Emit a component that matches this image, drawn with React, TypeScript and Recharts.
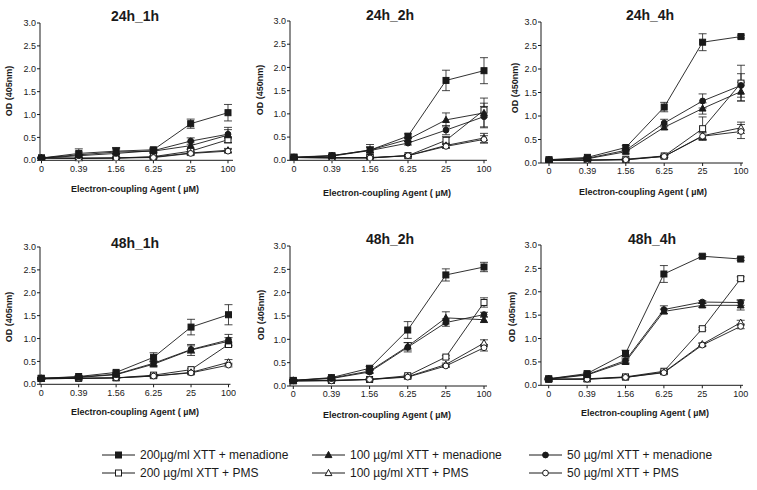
import React from "react";
import { LineChart, Line, XAxis, YAxis, ErrorBar } from "recharts";

const concentrations = ["0", "0.39", "1.56", "6.25", "25", "100"];
const yTicks = [0, 0.5, 1, 1.5, 2, 2.5, 3];

// 24h_1h
const h24_1_m200 = [0.05, 0.15, 0.2, 0.23, 0.8, 1.04];
const h24_1_m100 = [0.05, 0.12, 0.18, 0.2, 0.32, 0.55];
const h24_1_m50 = [0.05, 0.1, 0.15, 0.21, 0.42, 0.57];
const h24_1_p200 = [0.05, 0.05, 0.05, 0.08, 0.2, 0.45];
const h24_1_p100 = [0.05, 0.04, 0.05, 0.07, 0.16, 0.22];
const h24_1_p50 = [0.05, 0.04, 0.05, 0.06, 0.15, 0.2];
const h24_1_e_m200 = [0.02, 0.03, 0.05, 0.04, 0.1, 0.18];
const h24_1_e_m100 = [0.02, 0.13, 0.1, 0.04, 0.08, 0.17];
const h24_1_e_m50 = [0.02, 0.03, 0.12, 0.04, 0.07, 0.1];
const h24_1_e_p200 = [0.01, 0.01, 0.01, 0.02, 0.04, 0.06];
const h24_1_e_p100 = [0.01, 0.01, 0.01, 0.02, 0.03, 0.04];
const h24_1_e_p50 = [0.01, 0.01, 0.01, 0.02, 0.03, 0.04];

// 24h_2h
const h24_2_m200 = [0.07, 0.1, 0.22, 0.52, 1.72, 1.93];
const h24_2_m100 = [0.06, 0.1, 0.22, 0.45, 0.87, 1.02];
const h24_2_m50 = [0.06, 0.09, 0.21, 0.37, 0.65, 0.94];
const h24_2_p200 = [0.06, 0.06, 0.06, 0.1, 0.43, 1.08];
const h24_2_p100 = [0.06, 0.05, 0.05, 0.1, 0.32, 0.48];
const h24_2_p50 = [0.06, 0.05, 0.05, 0.1, 0.3, 0.45];
const h24_2_e_m200 = [0.02, 0.03, 0.06, 0.05, 0.22, 0.28];
const h24_2_e_m100 = [0.02, 0.03, 0.12, 0.05, 0.15, 0.32];
const h24_2_e_m50 = [0.02, 0.03, 0.08, 0.04, 0.1, 0.22];
const h24_2_e_p200 = [0.01, 0.02, 0.02, 0.02, 0.08, 0.15];
const h24_2_e_p100 = [0.01, 0.01, 0.01, 0.02, 0.05, 0.1];
const h24_2_e_p50 = [0.01, 0.01, 0.01, 0.02, 0.04, 0.08];

// 24h_4h
const h24_4_m200 = [0.07, 0.12, 0.33, 1.19, 2.57, 2.69];
const h24_4_m100 = [0.06, 0.09, 0.24, 0.76, 1.16, 1.52];
const h24_4_m50 = [0.06, 0.1, 0.27, 0.85, 1.32, 1.65];
const h24_4_p200 = [0.06, 0.06, 0.08, 0.15, 0.73, 1.7];
const h24_4_p100 = [0.06, 0.06, 0.07, 0.14, 0.58, 0.75];
const h24_4_p50 = [0.06, 0.06, 0.07, 0.14, 0.57, 0.67];
const h24_4_e_m200 = [0.02, 0.02, 0.04, 0.1, 0.18, 0.03];
const h24_4_e_m100 = [0.02, 0.02, 0.03, 0.05, 0.12, 0.2];
const h24_4_e_m50 = [0.02, 0.02, 0.03, 0.08, 0.15, 0.25];
const h24_4_e_p200 = [0.01, 0.01, 0.02, 0.02, 0.25, 0.38];
const h24_4_e_p100 = [0.01, 0.01, 0.01, 0.02, 0.08, 0.12];
const h24_4_e_p50 = [0.01, 0.01, 0.01, 0.02, 0.07, 0.15];

// 48h_1h
const h48_1_m200 = [0.13, 0.17, 0.26, 0.59, 1.25, 1.52];
const h48_1_m100 = [0.13, 0.15, 0.21, 0.44, 0.75, 0.94];
const h48_1_m50 = [0.13, 0.16, 0.22, 0.46, 0.76, 0.97];
const h48_1_p200 = [0.13, 0.13, 0.14, 0.2, 0.32, 0.87];
const h48_1_p100 = [0.12, 0.13, 0.14, 0.18, 0.26, 0.48];
const h48_1_p50 = [0.12, 0.13, 0.14, 0.18, 0.25, 0.42];
const h48_1_e_m200 = [0.02, 0.02, 0.03, 0.1, 0.17, 0.22];
const h48_1_e_m100 = [0.02, 0.02, 0.03, 0.06, 0.12, 0.08];
const h48_1_e_m50 = [0.02, 0.02, 0.03, 0.05, 0.08, 0.12];
const h48_1_e_p200 = [0.01, 0.01, 0.01, 0.02, 0.03, 0.05];
const h48_1_e_p100 = [0.01, 0.01, 0.01, 0.02, 0.03, 0.06];
const h48_1_e_p50 = [0.01, 0.01, 0.01, 0.02, 0.02, 0.04];

// 48h_2h
const h48_2_m200 = [0.12, 0.18, 0.38, 1.2, 2.38, 2.55];
const h48_2_m100 = [0.12, 0.17, 0.32, 0.85, 1.46, 1.42];
const h48_2_m50 = [0.12, 0.16, 0.3, 0.83, 1.36, 1.53];
const h48_2_p200 = [0.11, 0.12, 0.14, 0.22, 0.62, 1.79];
const h48_2_p100 = [0.11, 0.12, 0.14, 0.2, 0.46, 0.92];
const h48_2_p50 = [0.11, 0.11, 0.14, 0.19, 0.43, 0.82];
const h48_2_e_m200 = [0.02, 0.02, 0.04, 0.18, 0.13, 0.1];
const h48_2_e_m100 = [0.02, 0.02, 0.03, 0.08, 0.13, 0.06];
const h48_2_e_m50 = [0.02, 0.02, 0.03, 0.1, 0.08, 0.05];
const h48_2_e_p200 = [0.01, 0.01, 0.01, 0.02, 0.03, 0.1];
const h48_2_e_p100 = [0.01, 0.01, 0.01, 0.02, 0.03, 0.07];
const h48_2_e_p50 = [0.01, 0.01, 0.01, 0.02, 0.03, 0.07];

// 48h_4h
const h48_4_m200 = [0.14, 0.25, 0.68, 2.38, 2.76, 2.7];
const h48_4_m100 = [0.13, 0.22, 0.5, 1.58, 1.71, 1.71];
const h48_4_m50 = [0.14, 0.23, 0.53, 1.62, 1.78, 1.77];
const h48_4_p200 = [0.13, 0.14, 0.18, 0.3, 1.21, 2.28];
const h48_4_p100 = [0.13, 0.13, 0.17, 0.28, 0.88, 1.34];
const h48_4_p50 = [0.13, 0.13, 0.17, 0.27, 0.86, 1.26];
const h48_4_e_m200 = [0.02, 0.03, 0.07, 0.18, 0.03, 0.03];
const h48_4_e_m100 = [0.02, 0.02, 0.04, 0.05, 0.04, 0.1];
const h48_4_e_m50 = [0.02, 0.03, 0.05, 0.08, 0.03, 0.06];
const h48_4_e_p200 = [0.01, 0.01, 0.02, 0.02, 0.03, 0.04];
const h48_4_e_p100 = [0.01, 0.01, 0.01, 0.02, 0.03, 0.05];
const h48_4_e_p50 = [0.01, 0.01, 0.01, 0.02, 0.03, 0.05];

const seriesMeta = [
  { key: "p200", label: "200 µg/ml XTT + PMS", shape: "square", filled: false },
  { key: "p100", label: "100 µg/ml XTT + PMS", shape: "triangle", filled: false },
  { key: "p50", label: "50 µg/ml XTT + PMS", shape: "circle", filled: false },
  { key: "m200", label: "200µg/ml XTT + menadione", shape: "square", filled: true },
  { key: "m100", label: "100 µg/ml XTT + menadione", shape: "triangle", filled: true },
  { key: "m50", label: "50 µg/ml XTT + menadione", shape: "circle", filled: true },
];

const legendOrder = [
  ["m200", "p200"],
  ["m100", "p100"],
  ["m50", "p50"],
];

const panels = [
  {
    title: "24h_1h", yLabel: "OD (405nm)",
    values: { m200: h24_1_m200, m100: h24_1_m100, m50: h24_1_m50, p200: h24_1_p200, p100: h24_1_p100, p50: h24_1_p50 },
    errors: { m200: h24_1_e_m200, m100: h24_1_e_m100, m50: h24_1_e_m50, p200: h24_1_e_p200, p100: h24_1_e_p100, p50: h24_1_e_p50 },
    box: { axisX: 40, top: 22.7, bottom: 160, x0: 41.5, x100: 228, xEnd: 233, titleX: 135, titleY: 16, xlX: 135, xlY: 189, ylX: 9, ylY: 91 },
  },
  {
    title: "24h_2h", yLabel: "OD (450nm)",
    values: { m200: h24_2_m200, m100: h24_2_m100, m50: h24_2_m50, p200: h24_2_p200, p100: h24_2_p100, p50: h24_2_p50 },
    errors: { m200: h24_2_e_m200, m100: h24_2_e_m100, m50: h24_2_e_m50, p200: h24_2_e_p200, p100: h24_2_e_p100, p50: h24_2_e_p50 },
    box: { axisX: 290, top: 20.7, bottom: 160, x0: 294, x100: 484, xEnd: 487, titleX: 390, titleY: 15, xlX: 387, xlY: 193, ylX: 260, ylY: 90 },
  },
  {
    title: "24h_4h", yLabel: "OD (450nm)",
    values: { m200: h24_4_m200, m100: h24_4_m100, m50: h24_4_m50, p200: h24_4_p200, p100: h24_4_p100, p50: h24_4_p50 },
    errors: { m200: h24_4_e_m200, m100: h24_4_e_m100, m50: h24_4_e_m50, p200: h24_4_e_p200, p100: h24_4_e_p100, p50: h24_4_e_p50 },
    box: { axisX: 541, top: 22, bottom: 163, x0: 549, x100: 741, xEnd: 743, titleX: 650, titleY: 15, xlX: 643, xlY: 192, ylX: 515, ylY: 88 },
  },
  {
    title: "48h_1h", yLabel: "OD (405nm)",
    values: { m200: h48_1_m200, m100: h48_1_m100, m50: h48_1_m50, p200: h48_1_p200, p100: h48_1_p100, p50: h48_1_p50 },
    errors: { m200: h48_1_e_m200, m100: h48_1_e_m100, m50: h48_1_e_m50, p200: h48_1_e_p200, p100: h48_1_e_p100, p50: h48_1_e_p50 },
    box: { axisX: 39.5, top: 246.7, bottom: 384, x0: 40.7, x100: 228, xEnd: 230, titleX: 135, titleY: 243, xlX: 135, xlY: 412, ylX: 9, ylY: 317 },
  },
  {
    title: "48h_2h", yLabel: "OD (405nm)",
    values: { m200: h48_2_m200, m100: h48_2_m100, m50: h48_2_m50, p200: h48_2_p200, p100: h48_2_p100, p50: h48_2_p50 },
    errors: { m200: h48_2_e_m200, m100: h48_2_e_m100, m50: h48_2_e_m50, p200: h48_2_e_p200, p100: h48_2_e_p100, p50: h48_2_e_p50 },
    box: { axisX: 290, top: 246, bottom: 386, x0: 293.3, x100: 484, xEnd: 487, titleX: 390, titleY: 239, xlX: 387, xlY: 415, ylX: 261, ylY: 315 },
  },
  {
    title: "48h_4h", yLabel: "OD (405nm)",
    values: { m200: h48_4_m200, m100: h48_4_m100, m50: h48_4_m50, p200: h48_4_p200, p100: h48_4_p100, p50: h48_4_p50 },
    errors: { m200: h48_4_e_m200, m100: h48_4_e_m100, m50: h48_4_e_m50, p200: h48_4_e_p200, p100: h48_4_e_p100, p50: h48_4_e_p50 },
    box: { axisX: 541, top: 244.7, bottom: 385, x0: 548.7, x100: 740.7, xEnd: 743, titleX: 652, titleY: 239, xlX: 645, xlY: 413, ylX: 512, ylY: 317 },
  },
];

const FONT = "'Liberation Sans', Arial, Helvetica, sans-serif";
const INK = "#1a1a1a";

function Marker({ cx, cy, shape, filled }: any) {
  const fill = filled ? INK : "#fff";
  if (shape === "square") {
    return <rect x={cx - 3} y={cy - 3} width={6} height={6} fill={fill} stroke={INK} strokeWidth={1} />;
  }
  if (shape === "triangle") {
    return (
      <polygon
        points={`${cx},${cy - 3.6} ${cx + 3.4},${cy + 2.6} ${cx - 3.4},${cy + 2.6}`}
        fill={fill}
        stroke={INK}
        strokeWidth={1}
      />
    );
  }
  return <circle cx={cx} cy={cy} r={2.9} fill={fill} stroke={INK} strokeWidth={1} />;
}

const textBase: React.CSSProperties = {
  position: "absolute",
  fontFamily: FONT,
  color: INK,
  whiteSpace: "nowrap",
  lineHeight: 1,
};

function Panel({ panel }: any) {
  const b = panel.box;
  const mTop = 10;
  const xAxisH = 22;
  const width = b.xEnd - b.axisX + 40 + 6;
  const height = b.bottom - b.top + mTop + xAxisH;
  const rows = concentrations.map((c, i) => {
    const r: any = { c };
    seriesMeta.forEach((s) => {
      r[s.key] = panel.values[s.key][i];
      r[s.key + "_e"] = panel.errors[s.key][i];
    });
    return r;
  });

  return (
    <>
      <div style={{ position: "absolute", left: b.axisX - 40, top: b.top - mTop }}>
        <LineChart width={width} height={height} data={rows} margin={{ top: mTop, right: 6, left: 0, bottom: 0 }}>
          <XAxis
            dataKey="c"
            height={xAxisH}
            padding={{ left: b.x0 - b.axisX, right: b.xEnd - b.x100 }}
            stroke={INK}
            tickSize={3}
            tickMargin={2}
            tick={{ fontSize: 9, fill: INK, fontFamily: FONT }}
            interval={0}
          />
          <YAxis
            width={40}
            domain={[0, 3]}
            ticks={yTicks}
            tickFormatter={(v: number) => v.toFixed(1)}
            stroke={INK}
            tickSize={3}
            tickMargin={1}
            tick={{ fontSize: 9, fill: INK, fontFamily: FONT }}
            allowDataOverflow
          />
          {seriesMeta.map((s) => (
            <Line
              key={s.key}
              dataKey={s.key}
              type="linear"
              stroke={INK}
              strokeWidth={0.9}
              isAnimationActive={false}
              activeDot={false}
              dot={(p: any) => (
                <Marker key={`${s.key}-${p.index}`} cx={p.cx} cy={p.cy} shape={s.shape} filled={s.filled} />
              )}
            >
              <ErrorBar dataKey={s.key + "_e"} width={4} stroke={INK} strokeWidth={0.8} direction="y" />
            </Line>
          ))}
        </LineChart>
      </div>
      <div style={{ ...textBase, left: b.titleX, top: b.titleY, fontSize: 14, fontWeight: 700, transform: "translate(-50%, -50%)" }}>
        {panel.title}
      </div>
      <div style={{ ...textBase, left: b.xlX, top: b.xlY, fontSize: 9, fontWeight: 700, transform: "translate(-50%, -50%)" }}>
        Electron-coupling Agent ( µM)
      </div>
      <div
        style={{ ...textBase, left: b.ylX, top: b.ylY, fontSize: 9, fontWeight: 700, transform: "translate(-50%, -50%) rotate(-90deg)" }}
      >
        {panel.yLabel}
      </div>
    </>
  );
}

function LegendItem({ s, x, y }: any) {
  return (
    <div style={{ position: "absolute", left: x, top: y - 8, height: 16, display: "flex", alignItems: "center" }}>
      <svg width={34} height={16}>
        <line x1={0} y1={8} x2={33} y2={8} stroke={INK} strokeWidth={1} />
        <Marker cx={16.5} cy={8} shape={s.shape} filled={s.filled} />
      </svg>
      <span style={{ fontFamily: FONT, fontSize: 12, color: INK, marginLeft: 4, whiteSpace: "nowrap" }}>{s.label}</span>
    </div>
  );
}

const legendX = [102, 312, 529];
const legendY = [455, 473];

export default function App() {
  return (
    <div style={{ position: "absolute", left: 0, top: 0, width: 757, height: 490, background: "#fff", overflow: "hidden" }}>
      {panels.map((p) => (
        <Panel key={p.title} panel={p} />
      ))}
      {legendOrder.map((col, ci) =>
        col.map((k, ri) => {
          const s = seriesMeta.find((m) => m.key === k);
          return <LegendItem key={k} s={s} x={legendX[ci]} y={legendY[ri]} />;
        })
      )}
    </div>
  );
}
